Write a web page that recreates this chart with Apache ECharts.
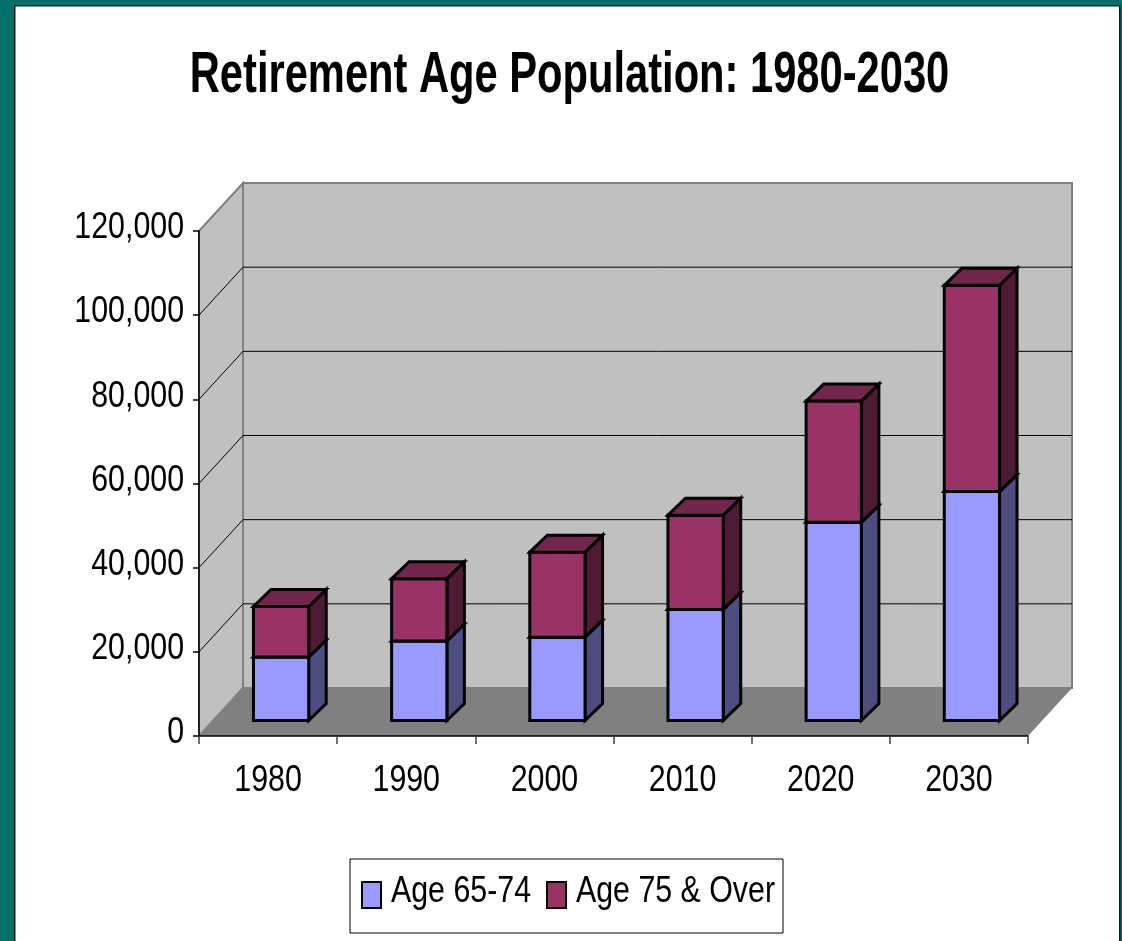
<!DOCTYPE html>
<html>
<head>
<meta charset="utf-8">
<script src="https://cdn.jsdelivr.net/npm/echarts@6/dist/echarts.min.js"></script>
<style>
  html, body { margin: 0; padding: 0; background: #03706B; }
  #chart { width: 1122px; height: 941px; }
</style>
</head>
<body>
<div id="chart"></div>
<script>
// Retirement age population by decade (thousands), stacked by age group
const categories = ['1980', '1990', '2000', '2010', '2020', '2030'];
const age65to74 = [15100, 18900, 19800, 26400, 47100, 54400];
const age75plus = [12000, 14800, 20200, 22400, 28800, 49000];
const yTicks = [0, 20000, 40000, 60000, 80000, 100000, 120000];
const seriesNames = ['Age 65-74', 'Age 75 & Over'];
const chartTitle = 'Retirement Age Population: 1980-2030';

// 3D look: wall depth offset, bar placement inside the depth, bar depth
const DEPTH = { dx: 44, dy: -48 };
const BAR = { ratio: 0.4, offX: 13, offY: -15.5, dx: 17.5, dy: -17 };
// Liberation Sans squeezed horizontally gives narrow-face lettering
const FONT = '"Liberation Sans", Arial, sans-serif';
const NARROW = 0.82;
const LABEL_SIZE = 37;

const shades = {
  low: { front: '#9999FF', side: '#4D4D80', top: '#7373BF' },
  high: { front: '#993366', side: '#4F1A33', top: '#73264B' }
};

const chart = echarts.init(document.getElementById('chart'));

function narrowText(x, y, text, align, opts) {
  opts = opts || {};
  return {
    type: 'text',
    x: x, y: y,
    scaleX: opts.scaleX || NARROW,
    style: {
      text: text,
      fill: '#000',
      fontFamily: FONT,
      fontSize: opts.fontSize || LABEL_SIZE,
      fontWeight: opts.fontWeight || 'normal',
      align: align,
      verticalAlign: 'middle'
    }
  };
}

function wallsItem(params, api) {
  const cs = params.coordSys;
  const x = cs.x, y = cs.y, w = cs.width, h = cs.height;
  const dx = DEPTH.dx, dy = DEPTH.dy;
  const children = [];
  // left side wall
  children.push({
    type: 'polygon',
    shape: { points: [[x, y + h], [x + dx, y + h + dy], [x + dx, y + dy], [x, y]] },
    style: { fill: '#C0C0C0', stroke: '#808080', lineWidth: 2 }
  });
  // back wall
  children.push({
    type: 'rect',
    shape: { x: x + dx, y: y + dy, width: w, height: h },
    style: { fill: '#C0C0C0', stroke: '#808080', lineWidth: 2 }
  });
  // gridlines across the side wall and the back wall
  yTicks.forEach(function (v) {
    if (v === yTicks[0] || v === yTicks[yTicks.length - 1]) return;
    const yy = api.coord([0, v])[1];
    children.push({
      type: 'polyline',
      shape: { points: [[x, yy], [x + dx, yy + dy], [x + w + dx, yy + dy]] },
      style: { stroke: '#000', lineWidth: 1, fill: null }
    });
  });
  // floor
  children.push({
    type: 'polygon',
    shape: { points: [[x, y + h], [x + w, y + h], [x + w + dx, y + h + dy], [x + dx, y + h + dy]] },
    style: { fill: '#808080', stroke: null }
  });
  return { type: 'group', children: children };
}

function barItem(shade, withTop) {
  return function (params, api) {
    const i = api.value(0);
    const base = api.value(1);
    const top = api.value(2);
    const cw = api.size([1, 0])[0];
    const bw = cw * BAR.ratio;
    const pb = api.coord([i, base]);
    const pt = api.coord([i, top]);
    const x0 = pb[0] - bw / 2 + BAR.offX;
    const x1 = x0 + bw;
    const yb = pb[1] + BAR.offY;
    const yt = pt[1] + BAR.offY;
    const line = { stroke: '#000', lineWidth: 3, lineJoin: 'miter' };
    const children = [
      {
        type: 'polygon',
        shape: { points: [[x1, yb], [x1 + BAR.dx, yb + BAR.dy], [x1 + BAR.dx, yt + BAR.dy], [x1, yt]] },
        style: Object.assign({ fill: shade.side }, line)
      },
      {
        type: 'rect',
        shape: { x: x0, y: yt, width: bw, height: yb - yt },
        style: Object.assign({ fill: shade.front }, line)
      }
    ];
    if (withTop) {
      children.push({
        type: 'polygon',
        shape: { points: [[x0, yt], [x0 + BAR.dx, yt + BAR.dy], [x1 + BAR.dx, yt + BAR.dy], [x1, yt]] },
        style: Object.assign({ fill: shade.top }, line)
      });
    }
    return { type: 'group', children: children };
  };
}

// value-axis tick labels, right-aligned left of the axis line
function yLabelItem(params, api) {
  const v = api.value(1);
  const p = api.coord([0, v]);
  return narrowText(params.coordSys.x - 15, p[1] - 3, v.toLocaleString('en-US'), 'right');
}

// category labels below the axis
function xLabelItem(params, api) {
  const i = api.value(0);
  const p = api.coord([i, 0]);
  return narrowText(p[0], params.coordSys.y + params.coordSys.height + 45, categories[i], 'center');
}

const lowData = age65to74.map(function (v, i) { return [i, 0, v]; });
const highData = age75plus.map(function (v, i) { return [i, age65to74[i], age65to74[i] + v]; });

// legend box with swatches
function legendGraphic() {
  const box = { x: 350, y: 859, w: 433, h: 74 };
  const items = [
    { name: seriesNames[0], color: shades.low.front, sx: 362, tx: 391 },
    { name: seriesNames[1], color: shades.high.front, sx: 547, tx: 576 }
  ];
  const children = [{
    type: 'rect',
    shape: { x: box.x, y: box.y, width: box.w, height: box.h },
    style: { fill: '#FFFFFF', stroke: '#000', lineWidth: 1 }
  }];
  items.forEach(function (it) {
    children.push({
      type: 'rect',
      shape: { x: it.sx, y: 882, width: 19, height: 26 },
      style: { fill: it.color, stroke: '#000', lineWidth: 2 }
    });
    children.push(narrowText(it.tx, 892, it.name, 'left'));
  });
  return { type: 'group', children: children };
}

chart.setOption({
  animation: false,
  backgroundColor: 'transparent',
  graphic: [
    {
      type: 'rect',
      left: 14, top: 5,
      shape: { width: 1105, height: 940 },
      style: { fill: '#FFFFFF', stroke: '#1A1A1A', lineWidth: 1.5 },
      z: -10
    },
    Object.assign(narrowText(569.5, 76.5, chartTitle, 'center', { fontSize: 57, fontWeight: 'bold', scaleX: 0.731 }), { z: 10 }),
    Object.assign(legendGraphic(), { z: 10 })
  ],
  grid: { left: 199, top: 231, right: 94, bottom: 205, containLabel: false },
  xAxis: {
    type: 'category',
    data: categories,
    boundaryGap: true,
    z: 5,
    axisLine: { show: true, lineStyle: { color: '#000', width: 1.5 } },
    axisTick: { show: true, length: 8, lineStyle: { color: '#404040', width: 1.5 } },
    axisLabel: { show: false },
    splitLine: { show: false }
  },
  yAxis: {
    type: 'value',
    min: yTicks[0],
    max: yTicks[yTicks.length - 1],
    interval: yTicks[1] - yTicks[0],
    z: 5,
    axisLine: { show: true, lineStyle: { color: '#000', width: 1.5 } },
    axisTick: { show: true, length: 6, lineStyle: { color: '#000', width: 1.5 } },
    axisLabel: { show: false },
    splitLine: { show: false }
  },
  series: [
    {
      name: 'walls',
      type: 'custom',
      z: 1,
      clip: false,
      silent: true,
      renderItem: wallsItem,
      data: [[0, 0]],
      encode: { x: 0, y: 1 }
    },
    {
      name: 'value labels',
      type: 'custom',
      z: 6,
      clip: false,
      silent: true,
      renderItem: yLabelItem,
      data: yTicks.map(function (v) { return [0, v]; }),
      encode: { x: 0, y: 1 }
    },
    {
      name: 'category labels',
      type: 'custom',
      z: 6,
      clip: false,
      silent: true,
      renderItem: xLabelItem,
      data: categories.map(function (c, i) { return [i, 0]; }),
      encode: { x: 0, y: 1 }
    },
    {
      name: seriesNames[0],
      type: 'custom',
      z: 3,
      clip: false,
      itemStyle: { color: shades.low.front },
      renderItem: barItem(shades.low, true),
      data: lowData,
      encode: { x: 0, y: 2 }
    },
    {
      name: seriesNames[1],
      type: 'custom',
      z: 4,
      clip: false,
      itemStyle: { color: shades.high.front },
      renderItem: barItem(shades.high, true),
      data: highData,
      encode: { x: 0, y: 2 }
    }
  ]
});
</script>
</body>
</html>
